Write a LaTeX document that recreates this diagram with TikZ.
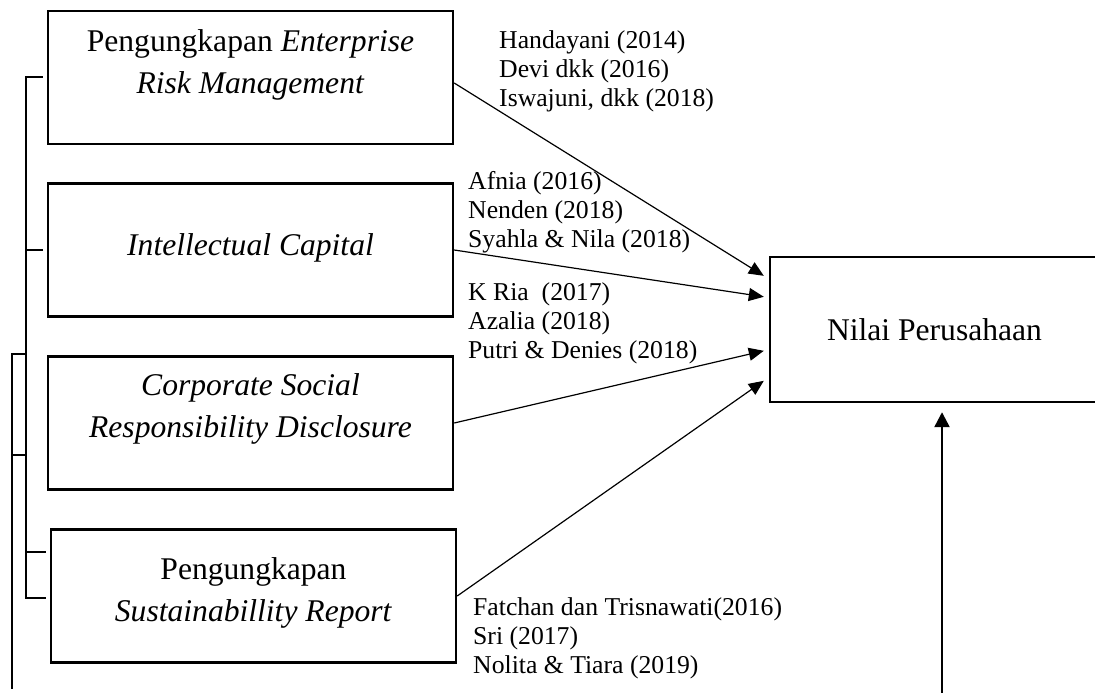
\documentclass[tikz,border=0pt]{standalone}
\usepackage{fontspec}
\setmainfont{Liberation Serif}
\usetikzlibrary{arrows.meta,calc}
\begin{document}
\begin{tikzpicture}[x=1pt,y=-1pt,
  box/.style={draw,line width=2.4pt,minimum width=405pt,minimum height=133pt,inner sep=0pt},
  boxtext/.style={font=\fontsize{31.6}{42}\selectfont,align=center,inner sep=0pt},
  cite/.style={font=\fontsize{25.7}{29}\selectfont,align=left,anchor=west,inner sep=0pt},
  arr/.style={line width=1.2pt,-{Triangle[length=15pt,width=13pt]}},
  brk/.style={line width=2pt}
]
\useasboundingbox (0,0) rectangle (1095,693);

% boxes
\node[box] (b1) at (250.5,77.5) {};
\node[box] (b2) at (250.5,250) {};
\node[box] (b3) at (250.5,423) {};
\node[box] (b4) at (253.5,596) {};
\node[draw,line width=2.4pt,minimum width=329pt,minimum height=145pt,inner sep=0pt] (nv) at (934.5,329.5) {};

% box texts
\node[boxtext] (t1) at (250.5,65) {Pengungkapan \textit{Enterprise}\\\textit{Risk Management}};
\node[boxtext] (t2) at (250.5,248) {\textit{Intellectual Capital}};
\node[boxtext] (t3) at (250.5,409) {\textit{Corporate Social}\\\textit{Responsibility Disclosure}};
\node[boxtext] (t4) at (253.5,593) {Pengungkapan\\\textit{Sustainabillity Report}};
\node[boxtext] (tn) at (934.5,330) {Nilai Perusahaan};

% citations
\node[cite] (c1) at (499,71) {Handayani (2014)\\Devi dkk (2016)\\Iswajuni, dkk (2018)};
\node[cite] (c2) at (468,212) {Afnia (2016)\\Nenden (2018)\\Syahla \& Nila (2018)};
\node[cite] (c3) at (468,323) {K Ria\ \ (2017)\\Azalia (2018)\\Putri \& Denies (2018)};
\node[cite] (c4) at (473,638) {Fatchan dan Trisnawati(2016)\\Sri (2017)\\Nolita \& Tiara (2019)};

% arrows
\draw[arr] ([yshift=-5.5pt]b1.east) -- ([xshift=-5pt,yshift=-20pt]nv.north west);
\draw[arr] (b2.east) -- ([xshift=-5pt,yshift=-41pt]nv.north west);
\draw[arr] (b3.east) -- ([xshift=-5pt,yshift=-95pt]nv.north west);
\draw[arr] (b4.east) -- ([xshift=-5pt,yshift=-125pt]nv.north west);

\coordinate (vb) at (942,700);
\coordinate (vt) at (vb |- nv.south);
\draw[line width=2.4pt,-{Triangle[length=15pt,width=15pt]}] (vb) -- ([yshift=-9pt]vt);

% bracket lines
\coordinate (s1) at (26,77.5);
\coordinate (s2) at (26,598);
\draw[brk] ([xshift=-4pt]b1.west) -- (s1) -- (s2) -- ([xshift=-4pt,yshift=-2pt]b4.west);
\draw[brk] ([xshift=-4pt]b2.west) -- (26,250);
\draw[brk] ([xshift=-4pt,yshift=44pt]b4.west) -- (26,552);
\coordinate (o1) at (12,354);
\coordinate (o2) at (12,689);
\draw[brk] (26,354) -- (o1) -- (o2);
\draw[brk] (12,455) -- (26,455);
\end{tikzpicture}
\end{document}
